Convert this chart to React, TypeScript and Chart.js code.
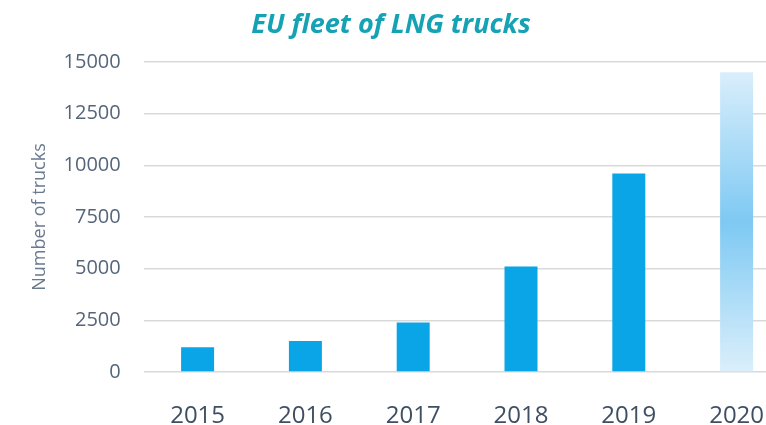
import React, { useEffect, useRef } from "react";
import { Chart, registerables } from "chart.js";

Chart.register(...registerables);

const titleText = "EU fleet of LNG trucks";
const yAxisTitle = "Number of trucks";
const years = ["2015", "2016", "2017", "2018", "2019", "2020"];
const trucks = [1200, 1500, 2400, 5100, 9600, 14500];
const yTicks = [0, 2500, 5000, 7500, 10000, 12500, 15000];

const BAR_COLOR = "#0aa5e6";

export default function App() {
  const canvasRef = useRef<HTMLCanvasElement | null>(null);

  useEffect(() => {
    const canvas = canvasRef.current;
    if (!canvas) return;
    const chart = new Chart(canvas, {
      type: "bar",
      data: {
        labels: years,
        datasets: [
          {
            label: "LNG trucks",
            data: trucks,
            backgroundColor: (ctx: any) => {
              const c = ctx.chart;
              if (ctx.dataIndex !== trucks.length - 1 || !c.chartArea) return BAR_COLOR;
              const y = c.scales.y;
              const top = y.getPixelForValue(trucks[ctx.dataIndex]);
              const bottom = y.getPixelForValue(0);
              const g = c.ctx.createLinearGradient(0, top, 0, bottom);
              g.addColorStop(0, "#d9eefb");
              g.addColorStop(0.5, "#7ec9f3");
              g.addColorStop(1, "#dbeffb");
              return g;
            },
            borderWidth: 0,
            barPercentage: 0.306,
            categoryPercentage: 1,
          },
        ],
      },
      options: {
        responsive: false,
        animation: false,
        layout: { padding: { top: 62, right: 9.5, left: 0, bottom: 0 } },
        plugins: {
          legend: { display: false },
          title: { display: false },
          tooltip: { enabled: false },
        },
        scales: {
          x: {
            grid: { display: false },
            border: { display: false },
            ticks: {
              color: "#3f4f63",
              font: { family: "Open Sans", size: 24 },
              padding: 22,
            },
            afterFit: (s: any) => {
              s.height = 53;
            },
          },
          y: {
            min: 0,
            max: 15000,
            afterBuildTicks: (s: any) => {
              s.ticks = yTicks.map((v) => ({ value: v }));
            },
            grid: { color: "#d9d9d9", lineWidth: 1.5, drawTicks: false },
            border: { display: false },
            ticks: {
              color: "#56667a",
              font: { family: "Open Sans", size: 20 },
              padding: 23,
              callback: (v: any) => String(v),
            },
            title: {
              display: true,
              text: yAxisTitle,
              color: "#6a7a8e",
              font: { family: "Open Sans", size: 18 },
              padding: { top: 29, bottom: 0 },
            },
            afterFit: (s: any) => {
              s.width = 143.7;
            },
          },
        },
      },
    });
    return () => chart.destroy();
  }, []);

  return (
    <div
      style={{
        position: "fixed",
        left: 0,
        top: 0,
        width: 766,
        height: 425,
        overflow: "hidden",
        background: "#ffffff",
      }}
    >
      <canvas
        ref={canvasRef}
        width={800}
        height={425}
        style={{ position: "absolute", left: 0, top: 0, width: 800, height: 425 }}
      />
      <div
        style={{
          position: "absolute",
          left: 0,
          top: 6,
          width: 782,
          textAlign: "center",
          fontFamily: "Open Sans",
          fontWeight: 700,
          fontStyle: "italic",
          fontSize: 27,
          lineHeight: "34px",
          color: "#14a2b4",
        }}
      >
        {titleText}
      </div>
    </div>
  );
}
